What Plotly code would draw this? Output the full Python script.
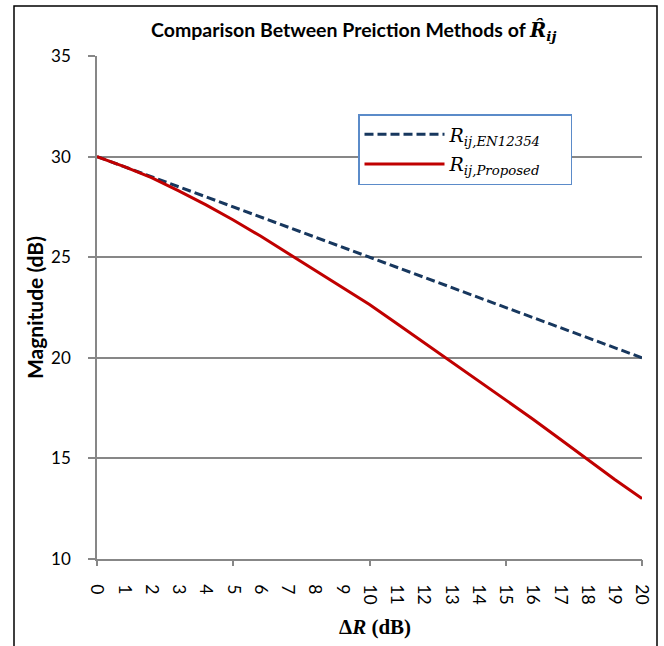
import plotly.graph_objects as go

# ---- data ----
delta_r = list(range(0, 21))
r_en12354 = [30.0, 29.5, 29.0, 28.5, 28.0, 27.5, 27.0, 26.5, 26.0, 25.5, 25.0,
             24.5, 24.0, 23.5, 23.0, 22.5, 22.0, 21.5, 21.0, 20.5, 20.0]
r_proposed = [30.0, 29.5, 28.95, 28.3, 27.6, 26.85, 26.05, 25.2, 24.35, 23.5, 22.65,
              21.7, 20.75, 19.8, 18.85, 17.9, 16.95, 15.95, 14.95, 13.95, 13.0]
x_tick_labels = [str(v) for v in delta_r]
y_ticks = [10, 15, 20, 25, 30, 35]

# ---- layout geometry (pixels) ----
W, H = 664, 646
ML, MR, MT, MB = 97, 22, 56, 87
PW, PH = W - ML - MR, H - MT - MB

def px(x):
    return (x - ML) / PW

def py(y):
    return (H - MB - y) / PH

GRAY = "#878787"
NAVY = "#17375E"
RED = "#C00000"
SANS = "Lato, 'Open Sans', sans-serif"
SERIF = "'DejaVu Serif', 'Liberation Serif', serif"
PAD = "&nbsp;" * 4

fig = go.Figure()
fig.add_trace(go.Scatter(
    x=delta_r, y=r_en12354, mode="lines",
    name="<i>R</i><sub><i>ij,EN12354</i></sub>" + PAD,
    line=dict(color=NAVY, width=3, dash="9px,4px"),
    legendgroup="a",
))
fig.add_trace(go.Scatter(
    x=delta_r, y=r_proposed, mode="lines", xaxis="x2",
    name="<i>R</i><sub><i>ij,Proposed</i></sub>" + PAD,
    line=dict(color=RED, width=3),
    legendgroup="b",
))

fig.update_layout(
    width=W, height=H,
    margin=dict(l=ML, r=MR, t=MT, b=MB, pad=0),
    paper_bgcolor="white", plot_bgcolor="white",
    font=dict(family=SANS, size=17, color="black"),
    xaxis=dict(
        range=[0, 20], tickmode="array", tickvals=delta_r, ticktext=x_tick_labels,
        tickangle=90, ticks="", showgrid=False, zeroline=False,
        showline=True, linecolor=GRAY, linewidth=1.5,
        tickfont=dict(family=SANS, size=17.5), ticklabelstandoff=20,
        fixedrange=True,
    ),
    xaxis2=dict(
        range=[0, 20], overlaying="x", anchor="y", side="bottom",
        tickmode="array", tickvals=[0, 5, 10, 15, 20], ticks="outside",
        ticklen=6, tickwidth=1.5, tickcolor=GRAY,
        showticklabels=False, showgrid=False, zeroline=False, showline=False,
    ),
    yaxis=dict(
        range=[10, 35], tickmode="array", tickvals=y_ticks,
        ticks="outside", ticklen=7, tickwidth=1.5, tickcolor=GRAY,
        showgrid=True, gridcolor=GRAY, gridwidth=1.5, zeroline=False,
        showline=True, linecolor=GRAY, linewidth=1.5,
        tickfont=dict(family=SANS, size=17), ticklabelstandoff=14,
    ),
    legend=dict(
        x=px(358), y=py(114), xanchor="left", yanchor="top",
        bordercolor="#5B8BC9", borderwidth=1.5, bgcolor="white",
        font=dict(family=SERIF, size=19, color="black"),
        tracegroupgap=2, itemwidth=80, traceorder="grouped",
    ),
    showlegend=True,
)

fig.add_shape(type="rect", xref="paper", yref="paper",
              x0=px(14), x1=px(657), y0=py(700), y1=py(6),
              line=dict(color="black", width=1.5), layer="below")

fig.add_annotation(
    xref="paper", yref="paper", x=px(353), y=py(31), xanchor="center", yanchor="middle",
    text="<b>Comparison Between Preiction Methods of </b>"
         "<span style=\"font-family:'DejaVu Serif'\"><b><i>R\u0302</i></b><sub><b><i>ij</i></b></sub></span>",
    showarrow=False, font=dict(family=SANS, size=19.5, color="black"),
)
fig.add_annotation(
    xref="paper", yref="paper", x=px(34), y=py(308), xanchor="center", yanchor="middle",
    text="<b>Magnitude (dB)</b>", textangle=-90,
    showarrow=False, font=dict(family=SANS, size=21, color="black"),
)
fig.add_annotation(
    xref="paper", yref="paper", x=px(375), y=py(627), xanchor="center", yanchor="middle",
    text="<b>\u0394<i>R</i> (dB)</b>",
    showarrow=False, font=dict(family="'Liberation Serif', serif", size=21, color="black"),
)

# remove the browser's default page margin so the figure sits at the window's corner
fig.write_html("out.html", config={"displayModeBar": False},
               post_script="document.body.style.margin='0px';")
